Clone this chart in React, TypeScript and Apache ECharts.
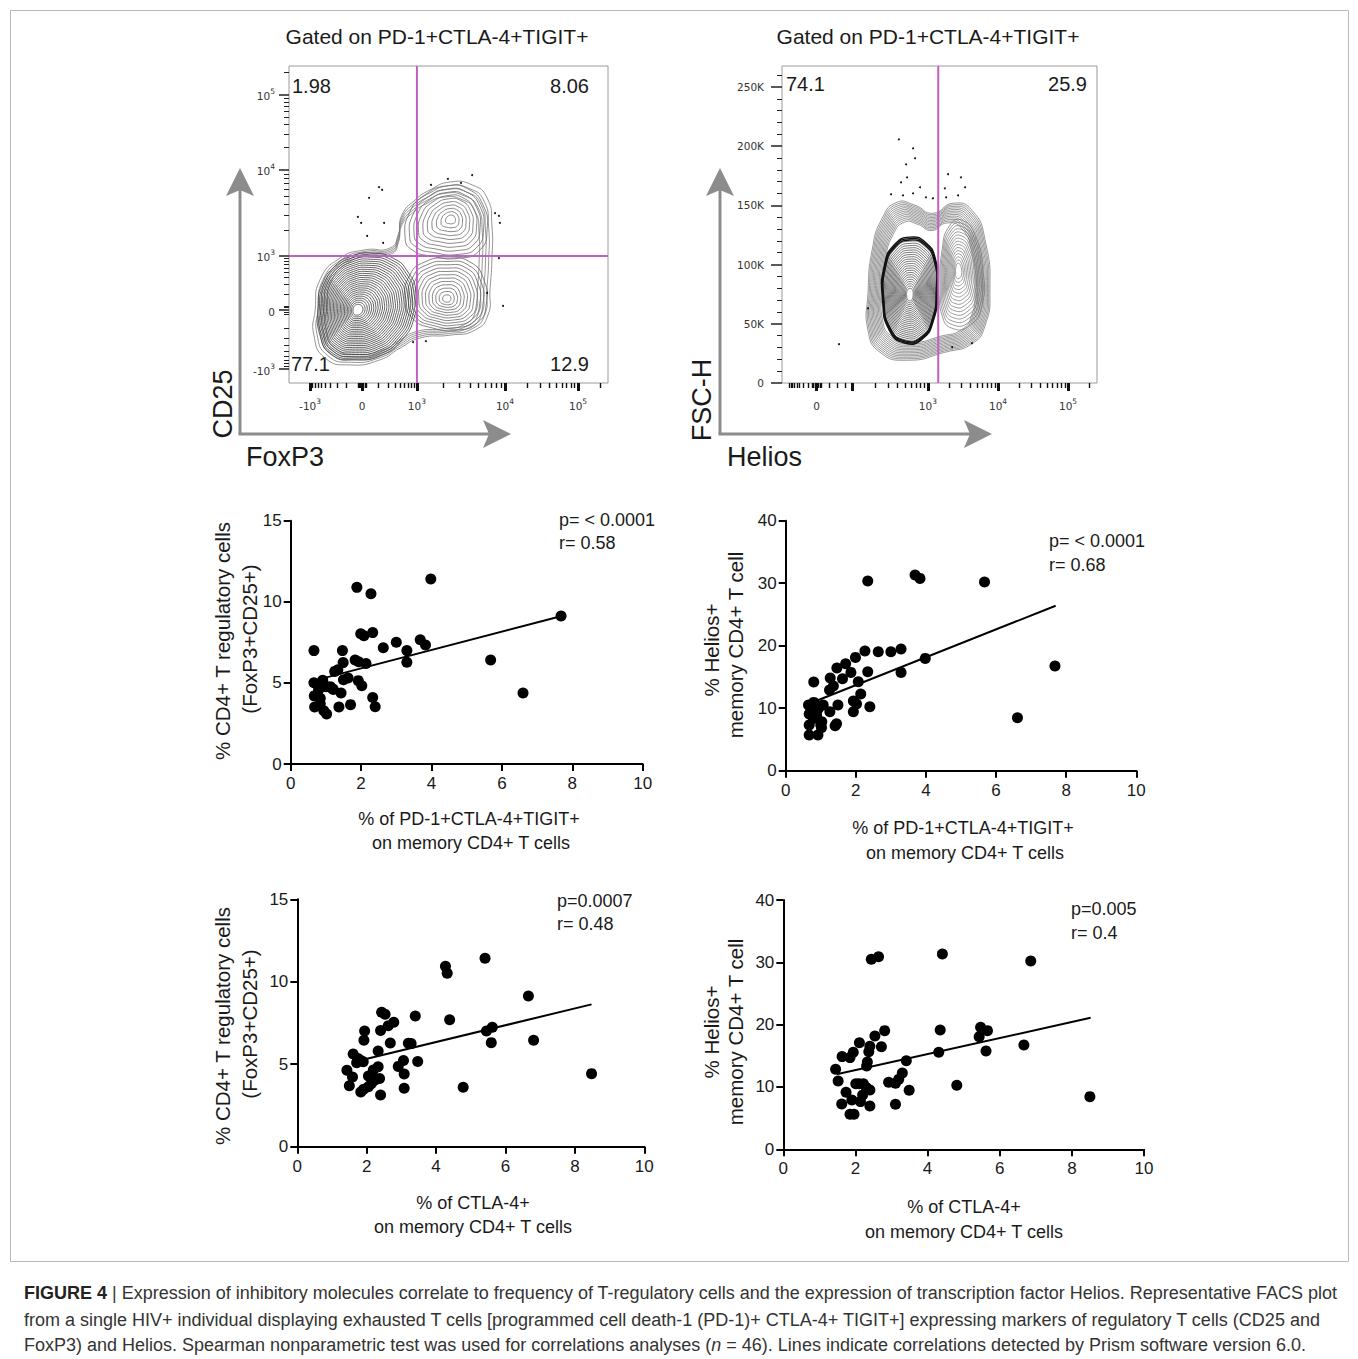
import React, { useEffect, useRef } from "react";
import * as echarts from "echarts";

const FONT = "'Liberation Sans', Arial, Helvetica, sans-serif";
const TICKFONT = "'DejaVu Sans', Verdana, sans-serif";

// ---------------- Scatter data: [x, y] ----------------
const tregVsPD1: number[][] = [
  [0.66, 6.99], [1.88, 10.89], [2.28, 10.5], [3.98, 11.4], [7.68, 9.12], [2.08, 7.9], [1.99, 8.03], [2.33, 8.1],
  [2.63, 7.17], [3.0, 7.5], [3.3, 6.99], [3.3, 6.27], [3.68, 7.66], [3.83, 7.33], [5.68, 6.41], [6.6, 4.38],
  [1.47, 6.99], [1.49, 6.25], [1.83, 6.41], [1.93, 6.31], [2.14, 6.2], [1.25, 5.71], [1.34, 5.81], [1.5, 5.2],
  [1.63, 5.3], [1.92, 5.14], [2.02, 4.83], [0.66, 5.01], [0.83, 4.97], [0.91, 5.16], [1.0, 4.77], [1.21, 4.6],
  [1.43, 4.38], [0.67, 4.2], [0.84, 4.05], [0.68, 3.51], [0.84, 3.72], [0.94, 3.28], [1.02, 3.08], [1.37, 3.52],
  [1.7, 3.66], [2.33, 4.1], [2.4, 3.53], [0.79, 4.56], [1.12, 4.77], [1.15, 4.7],
];
const heliosVsPD1: number[][] = [
  [2.34, 30.35], [3.69, 31.3], [3.83, 30.77], [5.67, 30.19], [7.68, 16.75], [6.61, 8.48], [3.98, 17.97], [3.29, 19.47],
  [3.29, 15.73], [3.0, 19.04], [2.64, 19.04], [2.26, 19.15], [2.34, 15.84], [1.99, 18.13], [1.71, 17.12], [1.46, 16.43],
  [1.86, 15.73], [1.62, 14.72], [2.07, 14.24], [1.27, 14.83], [1.36, 13.55], [1.25, 12.91], [0.8, 14.19], [2.14, 12.27],
  [1.93, 11.15], [2.02, 10.67], [1.93, 9.44], [2.4, 10.24], [1.49, 10.51], [1.26, 9.44], [1.07, 10.51], [0.65, 10.51],
  [0.8, 10.93], [0.67, 9.07], [0.88, 8.91], [0.67, 7.31], [1.03, 7.84], [1.02, 6.88], [1.41, 7.2], [0.67, 5.71],
  [0.92, 5.71], [0.79, 8.37], [0.93, 9.97], [1.45, 7.5], [0.72, 10.0], [1.0, 7.3],
];
const tregVsCTLA4: number[][] = [
  [5.41, 11.42], [4.27, 10.94], [4.32, 10.51], [6.66, 9.14], [8.48, 4.43], [6.81, 6.45], [5.59, 6.31], [5.62, 7.24],
  [5.45, 7.01], [4.39, 7.7], [4.78, 3.6], [3.4, 7.92], [3.47, 5.17], [3.28, 6.25], [3.2, 6.27], [3.08, 4.41],
  [3.08, 3.54], [3.06, 5.22], [2.91, 4.87], [2.68, 6.29], [2.78, 7.54], [2.62, 7.34], [2.43, 8.15], [2.53, 8.03],
  [2.4, 7.05], [1.94, 7.01], [1.92, 6.45], [2.33, 5.8], [1.61, 5.62], [1.83, 5.22], [1.9, 5.15], [1.71, 5.09],
  [1.43, 4.63], [1.59, 4.22], [1.5, 3.7], [1.83, 3.32], [1.91, 3.48], [2.4, 3.13], [2.05, 4.29], [2.14, 3.84],
  [2.24, 4.04], [2.33, 4.85], [2.37, 4.14], [2.19, 4.65], [2.05, 3.64], [1.75, 5.35],
];
const heliosVsCTLA4: number[][] = [
  [2.44, 30.48], [2.64, 30.9], [4.41, 31.34], [6.86, 30.21], [8.5, 8.45], [6.67, 16.74], [5.62, 15.78], [5.66, 19.04],
  [5.47, 19.57], [5.43, 18.07], [4.35, 19.14], [4.31, 15.56], [4.81, 10.27], [3.41, 14.22], [3.3, 12.25], [3.2, 11.23],
  [3.11, 10.59], [2.92, 10.75], [3.49, 9.47], [3.11, 7.22], [2.81, 19.04], [2.54, 18.18], [2.72, 16.47], [2.4, 16.52],
  [2.37, 15.67], [2.33, 14.01], [2.31, 13.37], [2.11, 17.11], [1.94, 15.56], [1.85, 14.71], [1.63, 14.87], [1.45, 12.83],
  [1.52, 10.96], [2.01, 10.53], [2.22, 10.53], [2.4, 9.52], [1.74, 9.14], [1.9, 7.91], [2.14, 7.65], [2.2, 8.72],
  [1.62, 7.27], [2.4, 6.95], [1.85, 5.61], [1.96, 5.61], [2.1, 10.5], [2.3, 9.9],
];

// Regression lines (start, end)
const fitTregVsPD1 = [[0.91, 5.28], [7.7, 9.12]];
const fitHeliosVsPD1 = [[0.88, 11.2], [7.7, 26.4]];
const fitTregVsCTLA4 = [[1.95, 5.3], [8.48, 8.63]];
const fitHeliosVsCTLA4 = [[1.48, 12.03], [8.52, 21.1]];

const statsP = ["p= < 0.0001", "p= < 0.0001", "p=0.0007", "p=0.005"];
const statsR = ["r= 0.58", "r= 0.68", "r= 0.48", "r= 0.4"];

const tregTicksMax = 15;
const heliosTicksMax = 40;

// ---------------- FACS plot 1 (display channel units 0-1000) ----------------
const foxp3TickPos = [66, 229, 401, 677, 906];
const foxp3TickText = ["-10^3", "0", "10^3", "10^4", "10^5"];
const cd25TickPos = [44, 230, 401, 672, 909];
const cd25TickText = ["-10^3", "0", "10^3", "10^4", "10^5"];
const foxp3Gate = 401;
const cd25Gate = 401;
const facs1Quadrants = ["1.98", "8.06", "77.1", "12.9"];
const facs1Events: number[][] = [
  [282, 618], [292, 609], [251, 584], [216, 524], [226, 505], [245, 464], [298, 505], [295, 442], [445, 625],
  [498, 644], [539, 631], [574, 656], [646, 536], [658, 527], [661, 505], [671, 243], [621, 284], [658, 394],
  [389, 129], [429, 132],
];
const foxp3MainOutline = [[91, 240], [103, 309], [144, 369], [198, 401], [260, 410], [326, 394], [373, 350], [398, 287], [392, 205], [354, 136], [292, 88], [207, 73], [135, 88], [97, 151]];
const foxp3MainCenter = [213, 230];
const foxp3LowOutline = [[364, 262], [379, 341], [426, 382], [495, 394], [567, 382], [611, 325], [618, 246], [593, 192], [530, 167], [448, 174], [386, 205]];
const foxp3LowCenter = [495, 265];
const foxp3HighOutline = [[364, 457], [379, 540], [426, 593], [495, 622], [561, 612], [608, 562], [621, 483], [599, 420], [536, 394], [442, 401], [386, 420]];
const foxp3HighCenter = [508, 517];
const foxp3Envelope = [[82, 230], [97, 325], [160, 394], [238, 420], [317, 426], [342, 467], [354, 530], [395, 577], [442, 609], [505, 634], [574, 625], [621, 584], [636, 498], [636, 388], [630, 293], [624, 215], [583, 167], [505, 151], [411, 142], [348, 110], [285, 73], [191, 57], [113, 79], [78, 151]];
const foxp3EnvelopeCenter = [348, 293];

// ---------------- FACS plot 2 (x: display units, y: FSC-H in K) ----------------
const heliosTickPos = [110, 463, 686, 908];
const heliosTickText = ["0", "10^3", "10^4", "10^5"];
const fscTickPos = [0, 50, 100, 150, 200, 250];
const heliosGate = 496;
const fscMax = 267.7;
const facs2Quadrants = ["74.1", "25.9"];
const facs2Events: number[][] = [
  [371, 205.8], [416, 198.2], [422, 189.8], [394, 184.7], [397, 173.7], [378, 169.5], [438, 165.3], [346, 159.4],
  [384, 158.5], [416, 160.2], [457, 156.8], [479, 156.0], [527, 176.3], [568, 173.7], [581, 165.3], [517, 164.4],
  [559, 158.5], [521, 156.8], [273, 63.1], [181, 32.8], [603, 33.6], [540, 30.2],
];
const heliosEnvelope = [[273, 75.8], [286, 112.1], [318, 139.1], [365, 152.6], [422, 150.1], [479, 143.3], [543, 151.8], [603, 145.9], [645, 120.5], [660, 75.8], [645, 48.8], [606, 33.6], [518, 26.0], [397, 19.2], [311, 26.0], [273, 44.6]];
const heliosEnvelopeCenter = [464, 82.5];
const heliosLeftOutline = [[321, 69.9], [327, 99.4], [359, 116.3], [406, 122.2], [454, 118.0], [486, 103.6], [492, 78.3], [479, 53.0], [444, 37.8], [391, 34.4], [343, 44.6]];
const heliosLeftCenter = [406, 74.2];
const heliosRightOutline = [[502, 78.3], [508, 112.1], [533, 133.2], [572, 137.4], [613, 124.7], [638, 95.2], [635, 65.6], [597, 48.8], [540, 46.2], [508, 57.2]];
const heliosRightCenter = [559, 95.2];

// ---------------- helpers ----------------
const logTicks = (lo: number, hi: number) => [2, 3, 4, 5, 6, 7, 8, 9].map((k) => lo + (hi - lo) * Math.log10(k));

const supLabel = (t: string) => {
  const [b, e] = t.split("^");
  return e ? `{b|${b}}{s|${e}}` : `{b|${b}}`;
};
const labelFor = (pos: number[], txt: string[]) => (v: number) => {
  const i = pos.findIndex((p) => Math.abs(p - v) < 0.01);
  return i >= 0 ? supLabel(txt[i]) : "";
};
const supRich = {
  b: { fontSize: 10.5, fontFamily: TICKFONT, color: "#333", lineHeight: 14, verticalAlign: "bottom" },
  s: { fontSize: 7.5, fontFamily: TICKFONT, color: "#333", lineHeight: 9, verticalAlign: "top" },
};

type Contour = { outline: number[][]; center: number[]; levels: number; minScale: number; maxScale?: number; color: string; width: number };

const contourRenderer = (shapes: Contour[]) => (_params: any, api: any) => {
  const children: any[] = [];
  for (const sh of shapes) {
    const maxS = sh.maxScale ?? 1;
    for (let k = 0; k < sh.levels; k++) {
      const s = maxS - ((maxS - sh.minScale) * k) / Math.max(1, sh.levels - 1);
      const pts = sh.outline.map(([x, y]) =>
        api.coord([sh.center[0] + (x - sh.center[0]) * s, sh.center[1] + (y - sh.center[1]) * s])
      );
      children.push({
        type: "polygon",
        shape: { points: pts, smooth: 0.55 },
        style: { fill: "none", stroke: sh.color, lineWidth: sh.width },
        silent: true,
      });
    }
  }
  return { type: "group", children };
};

const scatterX = (gridIndex: number) => ({
  type: "value",
  gridIndex,
  min: 0,
  max: 10,
  interval: 2,
  axisLine: { show: true, onZero: false, lineStyle: { color: "#000", width: 2 } },
  axisTick: { show: true, length: 7, lineStyle: { color: "#000", width: 2 } },
  axisLabel: { fontSize: 17, color: "#1a1a1a", fontFamily: FONT, margin: 11 },
  splitLine: { show: false },
});
const scatterY = (gridIndex: number, max: number, interval: number) => ({
  type: "value",
  gridIndex,
  min: 0,
  max,
  interval,
  axisLine: { show: true, onZero: false, lineStyle: { color: "#000", width: 2 } },
  axisTick: { show: true, length: 7, lineStyle: { color: "#000", width: 2 } },
  axisLabel: { fontSize: 17, color: "#1a1a1a", fontFamily: FONT, margin: 9 },
  splitLine: { show: false },
});

const txt = (text: string, x: number, y: number, o: any = {}) => ({
  type: "text",
  x,
  y,
  rotation: o.rotation || 0,
  silent: true,
  style: {
    text,
    fontSize: o.fontSize || 18,
    fontFamily: o.fontFamily || FONT,
    fontWeight: o.fontWeight || "normal",
    fill: o.fill || "#1a1a1a",
    align: o.align || "left",
    verticalAlign: o.verticalAlign || "middle",
    rich: o.rich,
  },
});

const arrowColor = "#8c8c8c";
const arrow = (ox: number, oy: number, topY: number, rightX: number) => [
  { type: "line", silent: true, shape: { x1: ox, y1: oy, x2: ox, y2: topY + 20 }, style: { stroke: arrowColor, lineWidth: 3 } },
  { type: "polygon", silent: true, shape: { points: [[ox, topY], [ox + 14, topY + 28], [ox, topY + 22], [ox - 14, topY + 28]] }, style: { fill: arrowColor } },
  { type: "line", silent: true, shape: { x1: ox - 1.5, y1: oy, x2: rightX - 20, y2: oy }, style: { stroke: arrowColor, lineWidth: 3 } },
  { type: "polygon", silent: true, shape: { points: [[rightX, oy], [rightX - 28, oy - 14], [rightX - 22, oy], [rightX - 28, oy + 14]] }, style: { fill: arrowColor } },
];

function buildOption(): any {
  const facs1MinorX = [
    ...logTicks(229, 66), ...logTicks(229, 401), ...logTicks(401, 677), ...logTicks(677, 906),
    906 + 229 * Math.log10(2), 216, 220, 224, 234, 238, 242,
  ];
  const facs1MinorY = [
    ...logTicks(230, 44), ...logTicks(230, 401), ...logTicks(401, 672), ...logTicks(672, 909),
    909 + 237 * Math.log10(2), 218, 222, 238, 242,
  ];
  const facs2MinorX = [
    ...logTicks(110, 20), ...logTicks(222, 463), ...logTicks(463, 686), ...logTicks(686, 908),
    908 + 222 * Math.log10(2), 95, 100, 105, 115, 120, 125, 150, 175, 200,
  ];
  const fscMinor: number[] = [];
  for (let v = 10; v < fscMax; v += 10) if (v % 50 !== 0) fscMinor.push(v);

  const xAxis: any[] = [
    {
      type: "value", gridIndex: 0, min: 0, max: 1000,
      axisLine: { show: false },
      axisTick: { show: true, customValues: foxp3TickPos, length: 8, lineStyle: { color: "#111", width: 3 } },
      axisLabel: { show: true, customValues: foxp3TickPos, formatter: labelFor(foxp3TickPos, foxp3TickText), rich: supRich, margin: 14 },
      splitLine: { show: false },
    },
    {
      type: "value", gridIndex: 0, min: 0, max: 1000, position: "bottom",
      axisLine: { show: false },
      axisTick: { show: true, customValues: facs1MinorX, length: 5, lineStyle: { color: "#111", width: 1.4 } },
      axisLabel: { show: false },
      splitLine: { show: false },
    },
    {
      type: "value", gridIndex: 1, min: 0, max: 1000,
      axisLine: { show: false },
      axisTick: { show: true, customValues: [...heliosTickPos, 222], length: 8, lineStyle: { color: "#111", width: 3 } },
      axisLabel: { show: true, customValues: heliosTickPos, formatter: labelFor(heliosTickPos, heliosTickText), rich: supRich, margin: 14 },
      splitLine: { show: false },
    },
    {
      type: "value", gridIndex: 1, min: 0, max: 1000, position: "bottom",
      axisLine: { show: false },
      axisTick: { show: true, customValues: facs2MinorX, length: 5, lineStyle: { color: "#111", width: 1.4 } },
      axisLabel: { show: false },
      splitLine: { show: false },
    },
    scatterX(2),
    scatterX(3),
    scatterX(4),
    scatterX(5),
  ];

  const yAxis: any[] = [
    {
      type: "value", gridIndex: 0, min: 0, max: 1000,
      axisLine: { show: false },
      axisTick: { show: true, customValues: cd25TickPos, length: 10, lineStyle: { color: "#222", width: 1.5 } },
      axisLabel: { show: true, customValues: cd25TickPos, formatter: labelFor(cd25TickPos, cd25TickText), rich: supRich, margin: 14 },
      splitLine: { show: false },
    },
    {
      type: "value", gridIndex: 0, min: 0, max: 1000, position: "left",
      axisLine: { show: false },
      axisTick: { show: true, customValues: facs1MinorY, length: 5, lineStyle: { color: "#222", width: 1 } },
      axisLabel: { show: false },
      splitLine: { show: false },
    },
    {
      type: "value", gridIndex: 1, min: 0, max: fscMax,
      axisLine: { show: false },
      axisTick: { show: true, customValues: fscTickPos, length: 11, lineStyle: { color: "#222", width: 1.5 } },
      axisLabel: {
        customValues: fscTickPos,
        fontSize: 10.5, fontFamily: TICKFONT, color: "#333", margin: 18,
        formatter: (v: number) => (v === 0 ? "0" : `${v}K`),
      },
      splitLine: { show: false },
    },
    {
      type: "value", gridIndex: 1, min: 0, max: fscMax, position: "left",
      axisLine: { show: false },
      axisTick: { show: true, customValues: fscMinor, length: 5, lineStyle: { color: "#222", width: 1 } },
      axisLabel: { show: false },
      splitLine: { show: false },
    },
    scatterY(2, tregTicksMax, 5),
    scatterY(3, heliosTicksMax, 10),
    scatterY(4, tregTicksMax, 5),
    scatterY(5, heliosTicksMax, 10),
  ];

  const gate = "#c35ec3";
  const dot = { type: "scatter", symbol: "circle", symbolSize: 11, itemStyle: { color: "#000", opacity: 1 }, silent: true };
  const fit = { type: "line", symbol: "none", lineStyle: { color: "#000", width: 2 }, silent: true };
  const ev = { type: "scatter", symbolSize: 2, itemStyle: { color: "#111", opacity: 1 }, silent: true };

  const series: any[] = [
    {
      type: "custom", xAxisIndex: 0, yAxisIndex: 0, data: [[0, 0]], silent: true,
      renderItem: contourRenderer([
        { outline: foxp3Envelope, center: foxp3EnvelopeCenter, levels: 5, minScale: 0.86, color: "#7a7a7a", width: 0.8 },
        { outline: foxp3HighOutline, center: foxp3HighCenter, levels: 10, minScale: 0.12, color: "#6a6a6a", width: 0.8 },
        { outline: foxp3LowOutline, center: foxp3LowCenter, levels: 12, minScale: 0.1, color: "#666", width: 0.8 },
        { outline: foxp3MainOutline, center: foxp3MainCenter, levels: 26, minScale: 0.1, color: "#3a3a3a", width: 0.8 },
      ]),
    },
    { ...ev, xAxisIndex: 0, yAxisIndex: 0, data: facs1Events },
    { type: "line", xAxisIndex: 0, yAxisIndex: 0, data: [[foxp3Gate, 0], [foxp3Gate, 1000]], symbol: "none", lineStyle: { color: gate, width: 2 }, silent: true },
    { type: "line", xAxisIndex: 0, yAxisIndex: 0, data: [[0, cd25Gate], [1000, cd25Gate]], symbol: "none", lineStyle: { color: gate, width: 2 }, silent: true },
    {
      type: "custom", xAxisIndex: 2, yAxisIndex: 2, data: [[0, 0]], silent: true,
      renderItem: contourRenderer([
        { outline: heliosEnvelope, center: heliosEnvelopeCenter, levels: 13, minScale: 0.76, color: "#6a6a6a", width: 0.7 },
        { outline: heliosRightOutline, center: heliosRightCenter, levels: 15, minScale: 0.14, color: "#707070", width: 0.7 },
        { outline: heliosLeftOutline, center: heliosLeftCenter, levels: 22, minScale: 0.12, maxScale: 0.95, color: "#3d3d3d", width: 0.7 },
        { outline: heliosLeftOutline, center: heliosLeftCenter, levels: 3, minScale: 0.97, maxScale: 1.02, color: "#111", width: 1.4 },
      ]),
    },
    { ...ev, xAxisIndex: 2, yAxisIndex: 2, data: facs2Events },
    { type: "line", xAxisIndex: 2, yAxisIndex: 2, data: [[heliosGate, 0], [heliosGate, fscMax]], symbol: "none", lineStyle: { color: gate, width: 2 }, silent: true },

    { ...dot, xAxisIndex: 4, yAxisIndex: 4, data: tregVsPD1 },
    { ...fit, xAxisIndex: 4, yAxisIndex: 4, data: fitTregVsPD1 },
    { ...dot, xAxisIndex: 5, yAxisIndex: 5, data: heliosVsPD1 },
    { ...fit, xAxisIndex: 5, yAxisIndex: 5, data: fitHeliosVsPD1 },
    { ...dot, xAxisIndex: 6, yAxisIndex: 6, data: tregVsCTLA4 },
    { ...fit, xAxisIndex: 6, yAxisIndex: 6, data: fitTregVsCTLA4 },
    { ...dot, xAxisIndex: 7, yAxisIndex: 7, data: heliosVsCTLA4 },
    { ...fit, xAxisIndex: 7, yAxisIndex: 7, data: fitHeliosVsCTLA4 },
  ];

  const facsGrid = { show: true, borderColor: "#9a9a9a", borderWidth: 1, backgroundColor: "transparent", containLabel: false };
  const grid: any[] = [
    { ...facsGrid, left: 289, top: 66, width: 319, height: 317 },
    { ...facsGrid, left: 782, top: 66, width: 315, height: 317 },
    { left: 290.7, top: 520.7, width: 352, height: 243.3 },
    { left: 785.7, top: 520.7, width: 350.6, height: 250 },
    { left: 297.3, top: 899.3, width: 347, height: 247.4 },
    { left: 783.3, top: 900, width: 360.7, height: 249.3 },
  ];

  const rot = Math.PI / 2;
  const capSize = 18;
  const yt = 20.5;
  const graphic: any[] = [
    { type: "rect", silent: true, shape: { x: 10.5, y: 10.5, width: 1338, height: 1251 }, style: { fill: "none", stroke: "#b8b8b8", lineWidth: 1 } },
    txt("Gated on PD-1+CTLA-4+TIGIT+", 437, 36, { fontSize: 21, align: "center" }),
    txt("Gated on PD-1+CTLA-4+TIGIT+", 928, 36, { fontSize: 21, align: "center" }),
    txt(facs1Quadrants[0], 292, 86, { fontSize: 20 }),
    txt(facs1Quadrants[1], 589, 86, { fontSize: 20, align: "right" }),
    txt(facs1Quadrants[2], 291, 364, { fontSize: 20 }),
    txt(facs1Quadrants[3], 589, 364, { fontSize: 20, align: "right" }),
    txt(facs2Quadrants[0], 786, 84, { fontSize: 20 }),
    txt(facs2Quadrants[1], 1087, 84, { fontSize: 20, align: "right" }),
    ...arrow(240, 434, 168, 511),
    ...arrow(720, 434, 168, 992),
    txt("CD25", 223, 404, { fontSize: 27, align: "center", rotation: rot }),
    txt("FoxP3", 246, 457, { fontSize: 27 }),
    txt("FSC-H", 702, 400, { fontSize: 27, align: "center", rotation: rot }),
    txt("Helios", 727, 457, { fontSize: 27 }),

    // Panel A
    txt("% CD4+ T regulatory cells", 222, 641, { fontSize: yt, align: "center", rotation: rot }),
    txt("(FoxP3+CD25+)", 249, 639, { fontSize: yt, align: "center", rotation: rot }),
    txt("% of PD-1+CTLA-4+TIGIT+", 469, 819, { fontSize: 18, align: "center" }),
    txt("on memory CD4+ T cells", 471, 843, { fontSize: 18, align: "center" }),
    txt(statsP[0], 559, 520, { fontSize: 18 }),
    txt(statsR[0], 559, 543, { fontSize: 18 }),
    // Panel B
    txt("% Helios+", 711, 650, { fontSize: yt, align: "center", rotation: rot }),
    txt("memory CD4+ T cell", 735, 645, { fontSize: yt, align: "center", rotation: rot }),
    txt("% of PD-1+CTLA-4+TIGIT+", 963, 828, { fontSize: 18, align: "center" }),
    txt("on memory CD4+ T cells", 965, 853, { fontSize: 18, align: "center" }),
    txt(statsP[1], 1049, 541, { fontSize: 18 }),
    txt(statsR[1], 1049, 565, { fontSize: 18 }),
    // Panel C
    txt("% CD4+ T regulatory cells", 222, 1026, { fontSize: yt, align: "center", rotation: rot }),
    txt("(FoxP3+CD25+)", 249, 1024, { fontSize: yt, align: "center", rotation: rot }),
    txt("% of CTLA-4+", 473, 1203, { fontSize: 18, align: "center" }),
    txt("on memory CD4+ T cells", 473, 1227, { fontSize: 18, align: "center" }),
    txt(statsP[2], 557, 901, { fontSize: 18 }),
    txt(statsR[2], 557, 924, { fontSize: 18 }),
    // Panel D
    txt("% Helios+", 711, 1032, { fontSize: yt, align: "center", rotation: rot }),
    txt("memory CD4+ T cell", 735, 1032, { fontSize: yt, align: "center", rotation: rot }),
    txt("% of CTLA-4+", 964, 1207, { fontSize: 18, align: "center" }),
    txt("on memory CD4+ T cells", 964, 1232, { fontSize: 18, align: "center" }),
    txt(statsP[3], 1071, 909, { fontSize: 18 }),
    txt(statsR[3], 1071, 933, { fontSize: 18 }),

    // Caption
    txt(
      "{b|FIGURE 4} | Expression of inhibitory molecules correlate to frequency of T-regulatory cells and the expression of transcription factor Helios. Representative FACS plot",
      24, 1293,
      { fontSize: capSize, fill: "#333", rich: { b: { fontSize: capSize, fontWeight: "bold", fill: "#222", fontFamily: FONT } } }
    ),
    txt(
      "from a single HIV+ individual displaying exhausted T cells [programmed cell death-1 (PD-1)+ CTLA-4+ TIGIT+] expressing markers of regulatory T cells (CD25 and",
      24, 1320,
      { fontSize: capSize, fill: "#333" }
    ),
    txt(
      "FoxP3) and Helios. Spearman nonparametric test was used for correlations analyses ({i|n} = 46). Lines indicate correlations detected by Prism software version 6.0.",
      24, 1345,
      { fontSize: capSize, fill: "#333", rich: { i: { fontSize: capSize, fontStyle: "italic", fill: "#333", fontFamily: FONT } } }
    ),
  ];

  return { animation: false, backgroundColor: "#fff", grid, xAxis, yAxis, series, graphic };
}

const App = () => {
  const ref = useRef<HTMLDivElement>(null);
  useEffect(() => {
    const chart = echarts.init(ref.current!, null, { renderer: "svg" });
    chart.setOption(buildOption());
    return () => chart.dispose();
  }, []);
  return (
    <div
      ref={ref}
      style={{ position: "absolute", left: 0, top: 0, width: 1358, height: 1359, background: "#fff" }}
    />
  );
};

export default App;
